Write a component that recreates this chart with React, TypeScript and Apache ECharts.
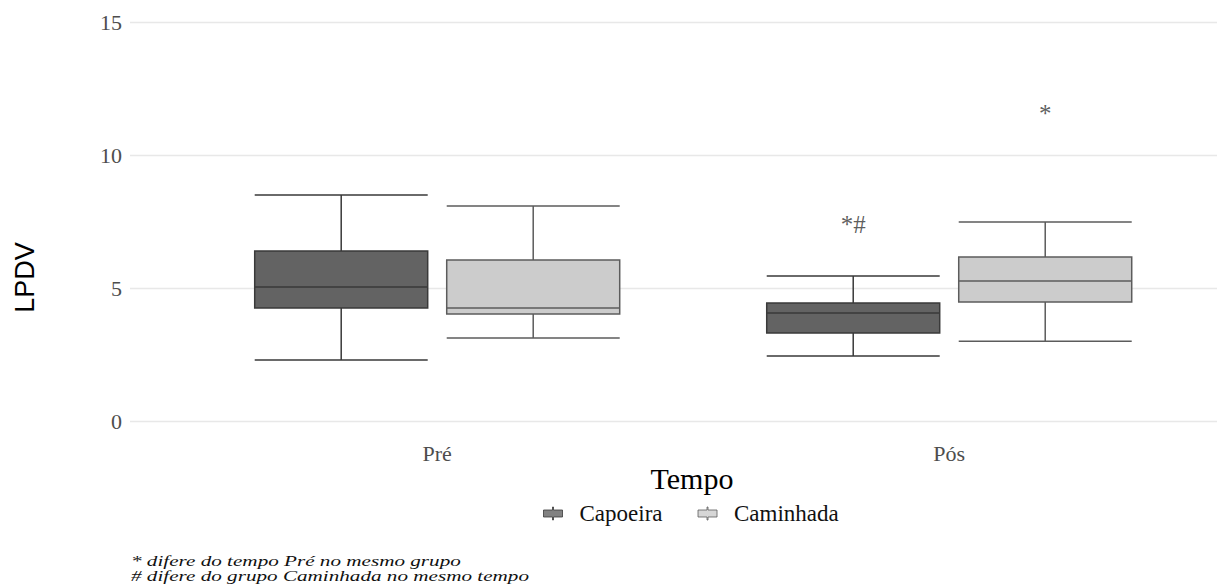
import { useEffect, useRef } from "react";
import * as echarts from "echarts";

// ---- data ----
const categories = ["Pré", "Pós"];
const groups = ["Capoeira", "Caminhada"];
// [min, Q1, median, Q3, max] per category (Pré, Pós)
const capoeira = [
  [2.29, 4.25, 5.04, 6.39, 8.5],
  [2.44, 3.31, 4.06, 4.44, 5.45],
];
const caminhada = [
  [3.12, 4.02, 4.25, 6.05, 8.08],
  [3.0, 4.47, 5.26, 6.17, 7.48],
];
const yTicks = [0, 5, 10, 15];
const annotText = ["*#", "*"];
const annotCat = [1, 1];
const annotGroup = [0, 1];
const annotY = [7.4, 11.55];
const footnotes = [
  "* difere do tempo Pré no mesmo grupo",
  "# difere do grupo Caminhada no mesmo tempo",
];

// ---- styles ----
const DODGE = 0.1875;
const X_MIN = 0.4;
const X_MAX = 2.523;
const SERIF = '"Liberation Serif", "Times New Roman", serif';
const groupFill = ["#636363", "#cccccc"];
const groupBorder = ["#3a3a3a", "#5c5c5c"];
const iconPath =
  "path://M9,0 L10,0 L10,3 L19,3 L19,10 L10,10 L10,13 L9,13 L9,10 L0,10 L0,3 L9,3 Z";

export default function App() {
  const ref = useRef<HTMLDivElement>(null);
  useEffect(() => {
    document.body.style.margin = "0";
    const chart = echarts.init(ref.current!, null, { renderer: "svg" });
    const groupData = [capoeira, caminhada];
    const boxData: any[] = [];
    groupData.forEach((g, gi) => {
      g.forEach((vals, ci) => {
        boxData.push({
          value: [ci + 1 + (gi === 0 ? -DODGE : DODGE), ...vals],
          itemStyle: {
            color: groupFill[gi],
            borderColor: groupBorder[gi],
            borderWidth: 1.5,
          },
        });
      });
    });
    const annotData = annotY.map((y, i) => ({
      value: [annotCat[i] + 1 + (annotGroup[i] === 0 ? -DODGE : DODGE), y],
      label: { formatter: annotText[i] },
    }));

    chart.setOption({
      animation: false,
      backgroundColor: "#ffffff",
      grid: { left: 130, top: 22, right: 0, height: 399 },
      legend: {
        left: 543,
        top: 502,
        padding: 0,
        itemWidth: 19,
        itemHeight: 13,
        itemGap: 35,
        textStyle: { fontFamily: SERIF, fontSize: 23, color: "#111", padding: [0, 0, 0, 12] },
        data: groups.map((name, i) => ({
          name,
          icon: iconPath,
          itemStyle: { color: groupFill[i], borderColor: groupBorder[i], borderWidth: 1 },
        })),
      },
      xAxis: {
        type: "value",
        min: X_MIN,
        max: X_MAX,
        axisLine: { show: false },
        axisTick: { show: false },
        splitLine: { show: false },
        axisLabel: {
          customValues: [1, 2],
          formatter: (v: number) => categories[Math.round(v) - 1] ?? "",
          fontFamily: SERIF,
          fontSize: 22,
          color: "#4d4d4d",
          margin: 21,
        },
        name: "Tempo",
        nameLocation: "middle",
        nameMoveOverlap: false,
        nameGap: 42,
        nameTextStyle: { fontFamily: SERIF, fontSize: 30, color: "#000", padding: [0, 0, 0, 37] },
      },
      yAxis: {
        type: "value",
        min: yTicks[0],
        max: yTicks[yTicks.length - 1],
        interval: 5,
        axisLine: { show: false },
        axisTick: { show: false },
        axisLabel: { fontFamily: SERIF, fontSize: 22, color: "#4d4d4d", margin: 8 },
        splitLine: { lineStyle: { color: "#e8e8e8", width: 1.3 } },
        name: "LPDV",
        nameLocation: "middle",
        nameMoveOverlap: false,
        nameGap: 92,
        nameTextStyle: {
          fontFamily: '"Liberation Sans", Arial, sans-serif',
          fontSize: 27,
          color: "#000",
          padding: [0, 112, 0, 0],
        },
      },
      series: [
        {
          type: "boxplot",
          name: "boxes",
          data: boxData,
          boxWidth: [173, 173],
          emphasis: { disabled: true },
          silent: true,
        },
        { type: "scatter", name: groups[0], data: [], itemStyle: { color: groupFill[0] } },
        { type: "scatter", name: groups[1], data: [], itemStyle: { color: groupFill[1] } },
        {
          type: "scatter",
          name: "annot",
          data: annotData,
          symbolSize: 0,
          silent: true,
          label: {
            show: true,
            position: "inside",
            fontFamily: SERIF,
            fontSize: 25,
            color: "#333",
          },
        },
      ],
      graphic: footnotes.map((t, i) => ({
        type: "text",
        x: 131,
        y: 554 + i * 15,
        scaleX: 1.41,
        style: {
          text: t,
          font: `italic 15px ${SERIF}`,
          fill: "#111",
          verticalAlign: "top",
        },
      })),
    });
    return () => chart.dispose();
  }, []);
  return <div ref={ref} style={{ width: 1217, height: 588 }} />;
}
